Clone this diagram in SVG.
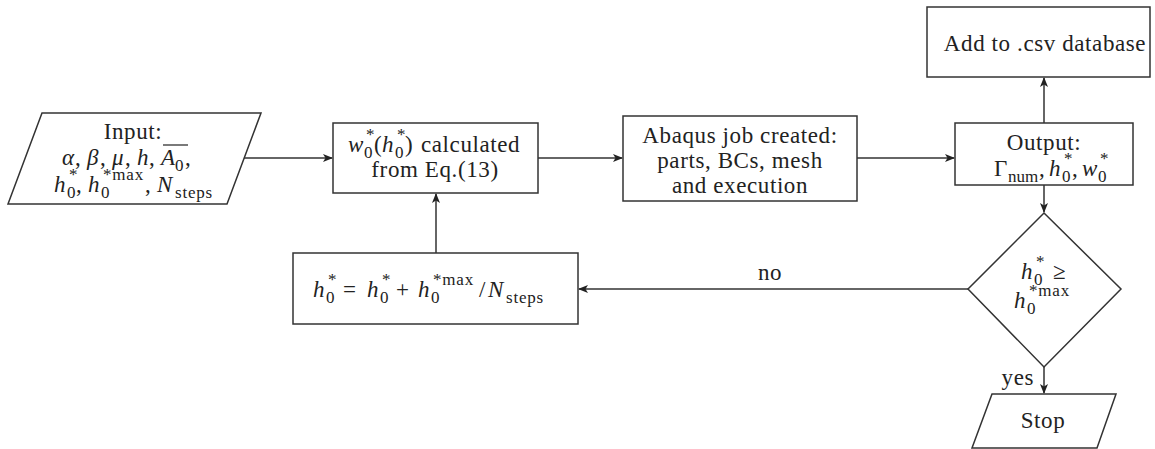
<svg xmlns="http://www.w3.org/2000/svg" width="1155" height="449" viewBox="0 0 1155 449">
<style>
.n{fill:#fff;stroke:#333;stroke-width:1.5}
.c{fill:none;stroke:#333;stroke-width:1.5}
.t{font-family:"Liberation Serif","DejaVu Serif",serif;font-size:23px;fill:#222;text-anchor:middle}
.m{text-anchor:start}
.p{letter-spacing:0.6px}
.i{font-style:italic}
.s{font-size:17px;letter-spacing:0.8px}
</style>
<defs>
<marker id="ah" markerWidth="10" markerHeight="8" refX="9" refY="4" orient="auto" markerUnits="userSpaceOnUse">
<path d="M0,0 L10,4 L0,8 L2.5,4 z" fill="#222"/>
</marker>
</defs>
<g id="connectors">
<line class="c" x1="244" y1="158" x2="332" y2="158" marker-end="url(#ah)"/>
<line class="c" x1="538" y1="158" x2="622" y2="158" marker-end="url(#ah)"/>
<line class="c" x1="857" y1="158" x2="954" y2="158" marker-end="url(#ah)"/>
<line class="c" x1="1044" y1="123" x2="1044" y2="78" marker-end="url(#ah)"/>
<line class="c" x1="1044" y1="185" x2="1044" y2="212" marker-end="url(#ah)"/>
<line class="c" x1="1044" y1="367" x2="1044" y2="393" marker-end="url(#ah)"/>
<line class="c" x1="968" y1="289" x2="579" y2="289" marker-end="url(#ah)"/>
<line class="c" x1="436" y1="253" x2="436" y2="194" marker-end="url(#ah)"/>
<text class="t p" x="770" y="280">no</text>
<text class="t p" x="1034" y="385" style="text-anchor:end">yes</text>
</g>
<g id="input">
<polygon class="n" points="42,113 261,113 227,204 8,204"/>
<text class="t p" x="133" y="139">Input:</text>
<text class="t m" y="165"><tspan x="62" class="i">α</tspan><tspan x="75">,</tspan><tspan x="87" class="i">β</tspan><tspan x="100">,</tspan><tspan x="112" class="i">μ</tspan><tspan x="125">,</tspan><tspan x="137" class="i">h</tspan><tspan x="149">,</tspan><tspan x="161" class="i">A</tspan><tspan x="175" y="171" class="s">0</tspan><tspan x="185" y="165">,</tspan></text>
<line x1="163" y1="145" x2="188" y2="145" stroke="#222" stroke-width="1.2"/>
<text class="t m" y="192"><tspan x="54" class="i">h</tspan><tspan x="67" y="198" class="s">0</tspan><tspan x="69" y="180" class="s">*</tspan><tspan x="76" y="192">,</tspan><tspan x="88" class="i">h</tspan><tspan x="101" y="198" class="s">0</tspan><tspan x="103" y="180" class="s">*max</tspan><tspan x="145" y="192">,</tspan><tspan x="157" class="i">N</tspan><tspan x="175" y="198" class="s">steps</tspan></text>
</g>
<g id="calc">
<rect class="n" x="333" y="123" width="205" height="70"/>
<text class="t m" y="152"><tspan x="348" class="i">w</tspan><tspan x="364" y="158" class="s">0</tspan><tspan x="366" y="140" class="s">*</tspan><tspan x="374" y="152">(</tspan><tspan x="382" class="i">h</tspan><tspan x="395" y="158" class="s">0</tspan><tspan x="397" y="140" class="s">*</tspan><tspan x="405" y="152">)</tspan><tspan x="421" class="p">calculated</tspan></text>
<text class="t p" x="435" y="177">from Eq.(13)</text>
</g>
<g id="abaqus">
<rect class="n" x="623" y="116" width="234" height="85"/>
<text class="t p" x="740" y="143">Abaqus job created:</text>
<text class="t p" x="740" y="168">parts, BCs, mesh</text>
<text class="t p" x="740" y="193">and execution</text>
</g>
<g id="output">
<rect class="n" x="955" y="123" width="178" height="62"/>
<text class="t p" x="1044" y="150">Output:</text>
<text class="t m" y="176"><tspan x="994">Γ</tspan><tspan x="1008" y="182" class="s" style="letter-spacing:0">num</tspan><tspan x="1039" y="176">,</tspan><tspan x="1049" class="i">h</tspan><tspan x="1062" y="182" class="s">0</tspan><tspan x="1064" y="164" class="s">*</tspan><tspan x="1072" y="176">,</tspan><tspan x="1082" class="i">w</tspan><tspan x="1098" y="182" class="s">0</tspan><tspan x="1100" y="164" class="s">*</tspan></text>
</g>
<g id="csv">
<rect class="n" x="927" y="7" width="223" height="70"/>
<text class="t p" x="1045" y="51">Add to .csv database</text>
</g>
<g id="update">
<rect class="n" x="293" y="253" width="285" height="71"/>
<text class="t m" y="297"><tspan x="313" class="i">h</tspan><tspan x="326" y="303" class="s">0</tspan><tspan x="328" y="285" class="s">*</tspan><tspan x="343" y="297">=</tspan><tspan x="367" class="i">h</tspan><tspan x="380" y="303" class="s">0</tspan><tspan x="382" y="285" class="s">*</tspan><tspan x="396" y="297">+</tspan><tspan x="418" class="i">h</tspan><tspan x="431" y="303" class="s">0</tspan><tspan x="433" y="285" class="s">*max</tspan><tspan x="479" y="297">/</tspan><tspan x="488" class="i">N</tspan><tspan x="506" y="303" class="s">steps</tspan></text>
</g>
<g id="decision">
<polygon class="n" points="1044,213 1121,289 1044,367 968,289"/>
<text class="t m" y="279"><tspan x="1021" class="i">h</tspan><tspan x="1034" y="285" class="s">0</tspan><tspan x="1036" y="267" class="s">*</tspan><tspan x="1053" y="279">≥</tspan></text>
<text class="t m" y="308"><tspan x="1014" class="i">h</tspan><tspan x="1027" y="314" class="s">0</tspan><tspan x="1029" y="296" class="s">*max</tspan></text>
</g>
<g id="stop">
<polygon class="n" points="992,394 1116,394 1097,448 972,448"/>
<text class="t p" x="1043" y="428">Stop</text>
</g>
</svg>
